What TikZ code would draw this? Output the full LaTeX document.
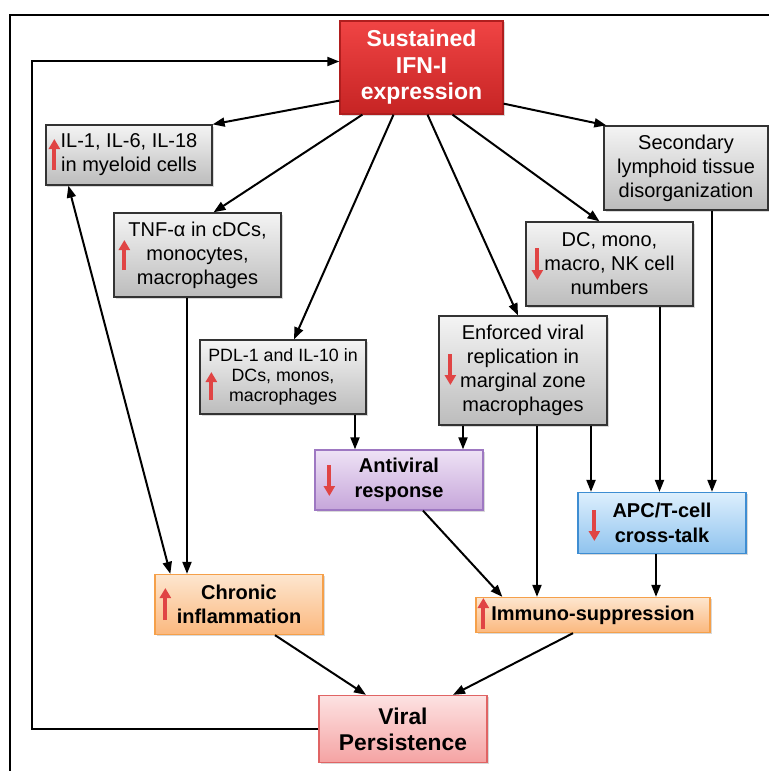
\documentclass[tikz,border=0pt]{standalone}
\usepackage{fontspec}
\setmainfont{Liberation Sans}
\usetikzlibrary{arrows.meta,shadows}

\definecolor{ifntop}{HTML}{F04444}
\definecolor{ifnbot}{HTML}{C62424}
\definecolor{ifnline}{HTML}{B01E1E}
\definecolor{graytop}{HTML}{F4F4F4}
\definecolor{graybot}{HTML}{BCBCBC}
\definecolor{violtop}{HTML}{EEE2F5}
\definecolor{violbot}{HTML}{C6A6DA}
\definecolor{violline}{HTML}{9E78C2}
\definecolor{bluetop}{HTML}{DDEFFD}
\definecolor{bluebot}{HTML}{8FC3EE}
\definecolor{blueline}{HTML}{3E8DD2}
\definecolor{orgtop}{HTML}{FDE6CF}
\definecolor{orgbot}{HTML}{FBB87E}
\definecolor{orgline}{HTML}{F5A04A}
\definecolor{pinktop}{HTML}{FDE2E2}
\definecolor{pinkbot}{HTML}{F5A3A3}
\definecolor{pinkline}{HTML}{E06464}
\definecolor{markred}{HTML}{E04444}

\begin{document}
\begin{tikzpicture}[x=1bp,y=-1bp,
		box/.style={rectangle,draw,line width=1.3bp,inner sep=0pt,align=center,
			drop shadow={shadow xshift=1.5bp,shadow yshift=-1.5bp,opacity=0.3}},
		graybox/.style={box,draw=black!80,top color=graytop,bottom color=graybot,
			font=\fontsize{20bp}{24bp}\selectfont},
		ifnbox/.style={box,draw=ifnline,top color=ifntop,bottom color=ifnbot,text=white,
			font=\fontsize{23bp}{26.5bp}\selectfont\bfseries},
		violbox/.style={box,draw=violline,top color=violtop,bottom color=violbot,
			font=\fontsize{20bp}{24.5bp}\selectfont\bfseries},
		bluebox/.style={box,draw=blueline,top color=bluetop,bottom color=bluebot,
			font=\fontsize{20bp}{24.5bp}\selectfont\bfseries},
		orgbox/.style={box,draw=orgline,top color=orgtop,bottom color=orgbot,
			font=\fontsize{20bp}{24.5bp}\selectfont\bfseries},
		pinkbox/.style={box,draw=pinkline,top color=pinktop,bottom color=pinkbot,
			font=\fontsize{22.8bp}{26bp}\selectfont\bfseries},
		conn/.style={line width=2bp,-{Triangle[length=12bp,width=9bp]}},
		both/.style={line width=2bp,{Triangle[length=12bp,width=9bp]}-{Triangle[length=12bp,width=9bp]}},
		incr/.style={markred,line width=3.8bp,-{Triangle[length=10bp,width=11bp]}}
	]
			
			\useasboundingbox (0,0) rectangle (769,771);
			\draw[line width=2bp] (10,771) -- (10,15) -- (769,15);
			
			% boxes
			\node[ifnbox,minimum width=163bp,minimum height=93bp] (ifn) at (421.5,67.5) {Sustained\\IFN-I\\expression};
			\node[graybox,minimum width=166bp,minimum height=60bp] (il) at (129,155) {IL-1, IL-6, IL-18\\in myeloid cells};
			\node[graybox,minimum width=167bp,minimum height=84bp] (tnf) at (197.5,255) {TNF-α in cDCs,\\monocytes,\\macrophages};
			\node[graybox,font=\fontsize{17.8bp}{20bp}\selectfont,minimum width=166bp,minimum height=74bp] (pdl) at (283,377) {PDL-1 and IL-10 in\\DCs, monos,\\macrophages};
			\node[graybox,minimum width=164bp,minimum height=84bp] (sec) at (686,168) {Secondary\\lymphoid tissue\\disorganization};
			\node[graybox,minimum width=167bp,minimum height=84bp] (dc) at (609.5,264) {DC, mono,\\macro, NK cell\\numbers};
			\node[graybox,minimum width=168bp,minimum height=109bp] (enf) at (523,370.5) {Enforced viral\\replication in\\marginal zone\\macrophages};
			\node[violbox,minimum width=168bp,minimum height=60bp] (av) at (399,480) {Antiviral\\response};
			\node[bluebox,minimum width=168bp,minimum height=61bp] (apc) at (662,523) {APC/T-cell\\cross-talk};
			\node[orgbox,minimum width=168bp,minimum height=60bp] (chr) at (239,604.5) {Chronic\\inflammation};
			\node[orgbox,minimum width=234bp,minimum height=35bp] (imm) at (593,615) {Immuno-suppression};
			\node[pinkbox,minimum width=168bp,minimum height=67bp] (vir) at (403,729) {Viral\\Persistence};
			
			% up / down marks
			\draw[incr] ([xshift=9bp,yshift=-15bp]il.west) -- ([xshift=9bp,yshift=16bp]il.west);
			\draw[incr] ([xshift=11bp,yshift=-15bp]tnf.west) -- ([xshift=11bp,yshift=15bp]tnf.west);
			\draw[incr] ([xshift=12bp,yshift=-23bp]pdl.west) -- ([xshift=12bp,yshift=5bp]pdl.west);
			\draw[incr] ([xshift=12bp,yshift=16bp]dc.west) -- ([xshift=12bp,yshift=-16bp]dc.west);
			\draw[incr] ([xshift=12bp,yshift=16.5bp]enf.west) -- ([xshift=12bp,yshift=-14.5bp]enf.west);
			\draw[incr] ([xshift=15bp,yshift=15bp]av.west) -- ([xshift=15bp,yshift=-16bp]av.west);
			\draw[incr] ([xshift=17bp,yshift=13bp]apc.west) -- ([xshift=17bp,yshift=-18bp]apc.west);
			\draw[incr] ([xshift=11bp,yshift=-15.5bp]chr.west) -- ([xshift=11bp,yshift=16.5bp]chr.west);
			\draw[incr] ([xshift=8bp,yshift=-14bp]imm.west) -- ([xshift=8bp,yshift=17bp]imm.west);
			
			% from IFN-I
			\draw[conn] ([yshift=14bp]ifn.south west) -- (il.north east);
			\draw[conn] ([xshift=23bp]ifn.south west) -- ([xshift=16bp]tnf.north);
			\draw[conn] ([xshift=-28bp]ifn.south) -- ([xshift=11bp]pdl.north);
			\draw[conn] ([xshift=6bp]ifn.south) -- ([xshift=-5bp]enf.north);
			\draw[conn] ([xshift=31bp]ifn.south) -- ([xshift=-10bp]dc.north);
			\draw[conn] ([yshift=11bp]ifn.south east) -- ([xshift=3bp]sec.north west);
			
			% feedback
			\coordinate (back) at (32,729);
			\draw[conn] (vir.west) -- (back) |- ([yshift=6bp]ifn.west);
			
			\draw[both] ([xshift=16bp]chr.north west) -- ([xshift=23bp]il.south west);
			\draw[conn] ([xshift=-10.5bp]tnf.south) -- ([xshift=-10.5bp]tnf.south |- chr.north);
			\draw[conn] ([xshift=72bp]pdl.south) -- ([xshift=72bp]pdl.south |- av.north);
			\draw[conn] ([xshift=-60bp]enf.south) -- ([xshift=-60bp]enf.south |- av.north);
			\draw[conn] ([xshift=14bp]enf.south) -- ([xshift=14bp]enf.south |- imm.north);
			\draw[conn] ([xshift=68bp]enf.south) -- ([xshift=68bp]enf.south |- apc.north);
			\draw[conn] ([xshift=50bp]dc.south) -- ([xshift=50bp]dc.south |- apc.north);
			\draw[conn] ([xshift=26bp]sec.south) -- ([xshift=26bp]sec.south |- apc.north);
			\draw[conn] ([xshift=24bp]av.south) -- ([xshift=27bp]imm.north west);
			\draw[conn] ([xshift=-6bp]apc.south) -- ([xshift=-6bp]apc.south |- imm.north);
			\draw[conn] ([xshift=36bp]chr.south) -- ([xshift=-37bp]vir.north);
			\draw[conn] ([xshift=-20bp]imm.south) -- ([xshift=50bp]vir.north);
			
		\end{tikzpicture}
\end{document}
